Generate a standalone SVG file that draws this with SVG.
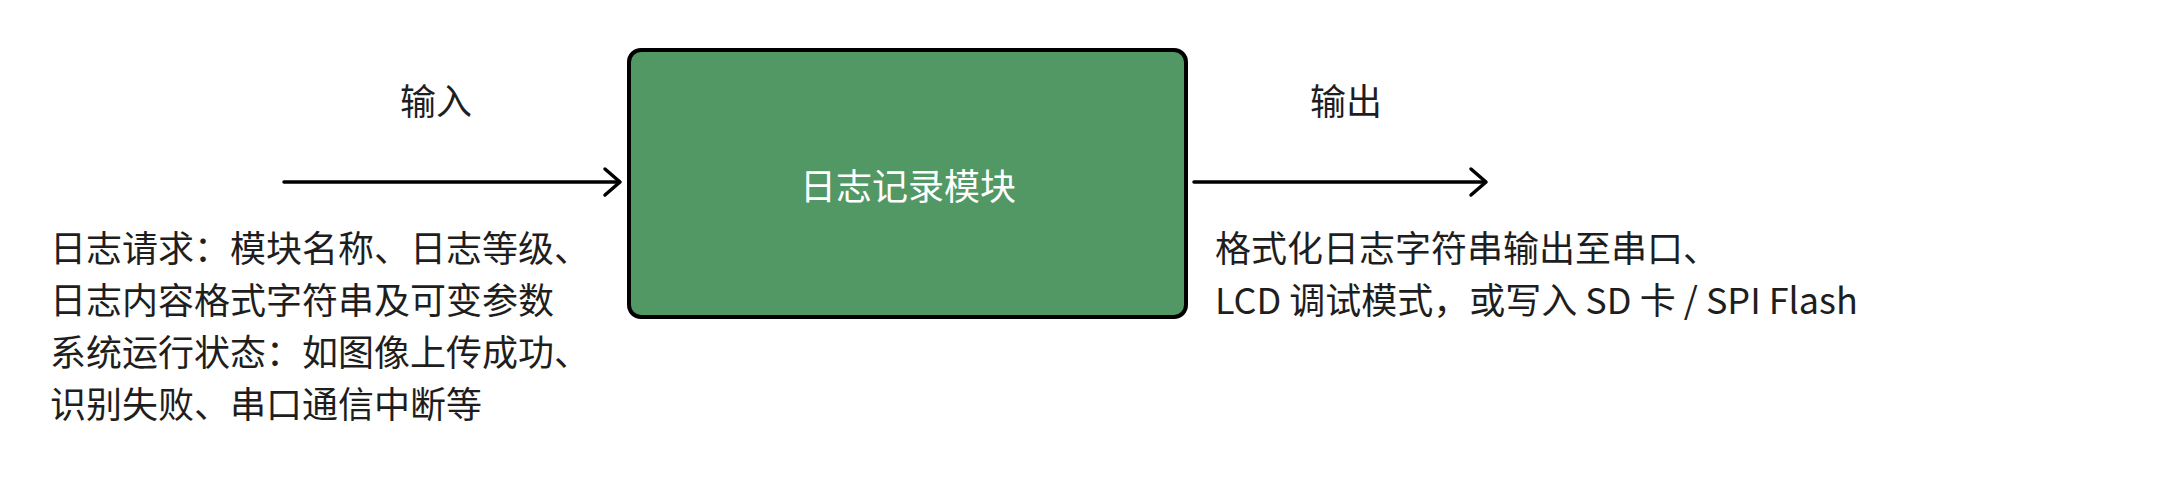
<svg xmlns="http://www.w3.org/2000/svg" width="2162" height="478" viewBox="0 0 2162 478">
<style>
text{font-family:"Noto Sans CJK SC","Noto Sans",sans-serif;font-size:36px;fill:#1e1e1e}
.node{fill:#519865;stroke:#000;stroke-width:4}
.nl{fill:#fff;text-anchor:middle;dominant-baseline:central}
.edge{stroke:#000;stroke-width:3.5;fill:none;stroke-linecap:round}
.head{stroke:#000;stroke-width:3.5;fill:none;stroke-linecap:round;stroke-linejoin:round}
.lbl{text-anchor:middle}
</style>
<rect width="2162" height="478" fill="#fff"/>
<g id="logger">
<rect class="node" x="629" y="50" width="557" height="267" rx="12"/>
<text class="nl" x="908" y="184">日志记录模块</text>
</g>
<g id="connectors">
<g id="edge-in">
<line class="edge" x1="284" y1="182" x2="619" y2="182"/>
<polyline class="head" points="605,169 620,182 605,195"/>
<text class="lbl" x="436" y="115">输入</text>
</g>
<g id="edge-out">
<line class="edge" x1="1194" y1="182" x2="1485" y2="182"/>
<polyline class="head" points="1471,169 1486,182 1471,195"/>
<text class="lbl" x="1346" y="115">输出</text>
</g>
</g>
<g id="input-desc">
<text x="50" y="262">日志请求：模块名称、日志等级、</text>
<text x="50" y="314">日志内容格式字符串及可变参数</text>
<text x="50" y="366">系统运行状态：如图像上传成功、</text>
<text x="50" y="418">识别失败、串口通信中断等</text>
</g>
<g id="output-desc">
<text x="1215" y="262">格式化日志字符串输出至串口、</text>
<text x="1215" y="314">LCD 调试模式，或写入 SD 卡 / SPI Flash</text>
</g>
</svg>
